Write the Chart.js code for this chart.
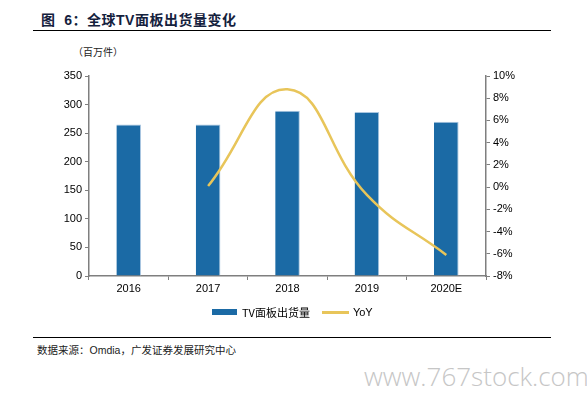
<!DOCTYPE html>
<html>
<head>
<meta charset="utf-8">
<script src="https://cdn.jsdelivr.net/npm/chart.js@4/dist/chart.umd.min.js"></script>
<style>
  body { margin: 0; width: 587px; height: 399px; background: #fff; position: relative; overflow: hidden;
         font-family: "Liberation Sans", Arial, "Noto Sans CJK SC", sans-serif; }
  #title { position: absolute; left: 41px; top: 9px; font-size: 14px; font-weight: bold; color: #14213d;
           font-family: "Liberation Sans", "Noto Sans CJK SC", sans-serif; letter-spacing: 0.5px; }
  .rule { position: absolute; left: 33px; width: 518px; height: 0; border-top: 1.5px solid #000; }
  #unit { position: absolute; left: 73px; top: 44px; font-size: 10px; color: #222; font-family: "Noto Sans CJK SC", sans-serif; }
  #box { position: absolute; left: 0; top: 0; width: 587px; height: 320px; }
  #legend { position: absolute; top: 304px; left: 212px; font-size: 11px; color: #000; display: flex; align-items: center; }
  #legend span.sw { display: inline-block; }
  #source { position: absolute; left: 37px; top: 342px; font-size: 10.5px; color: #222;
            font-family: "Liberation Sans", "Noto Sans CJK SC", sans-serif; }
  #wm { position: absolute; left: 364px; top: 358px; font-size: 26px; font-weight: 300; color: #c6c6c6; font-family: "Open Sans", sans-serif; }
</style>
</head>
<body>
<div id="title">图&nbsp; 6：全球TV面板出货量变化</div>
<div class="rule" style="top:30px"></div>
<div id="unit">（百万件）</div>
<div id="box"><canvas id="myChart"></canvas></div>
<div id="legend">
  <span class="sw" style="width:25px;height:6px;background:#1b6aa5;margin-right:5px"></span><span style="font-family:'Noto Sans CJK SC'">TV面板出货量</span>
  <span class="sw" style="width:27px;height:3px;background:#e8c55a;margin-left:12px;margin-right:4px"></span><span>YoY</span>
</div>
<div class="rule" style="top:337px"></div>
<div id="source">数据来源：Omdia，广发证券发展研究中心</div>
<div id="wm">www.767stock.com</div>
<script>
var years = ['2016', '2017', '2018', '2019', '2020E'];
var shipments = [265, 265, 289, 287, 270];
var yoy = [null, 0.1, 8.8, -0.7, -6.1];
var leftTicks = [0, 50, 100, 150, 200, 250, 300, 350];
var rightTicks = [-8, -6, -4, -2, 0, 2, 4, 6, 8, 10];

var axisColor = '#7f7f7f';
var tickFont = { family: 'Liberation Sans, Arial, sans-serif', size: 11 };

var ctx = document.getElementById('myChart');
var myChart = new Chart(ctx, {
    type: 'bar',
    data: {
        labels: years,
        datasets: [{
            label: 'TV面板出货量',
            data: shipments,
            backgroundColor: '#1b6aa5',
            borderColor: '#a9c6e0',
            borderWidth: { top: 1, left: 0, right: 1, bottom: 0 },
            yAxisID: 'y',
            barPercentage: 0.31,
            categoryPercentage: 1,
            order: 2
        }, {
            type: 'line',
            label: 'YoY',
            data: yoy,
            borderColor: '#e8c55a',
            borderWidth: 2.5,
            pointRadius: 0,
            tension: 0.45,
            yAxisID: 'y1',
            order: 1
        }]
    },
    options: {
        responsive: true,
        maintainAspectRatio: false,
        animation: false,
        layout: { padding: { top: 76, bottom: 14, left: 30, right: 40 } },
        plugins: { legend: { display: false }, tooltip: { enabled: false } },
        scales: {
            x: {
                grid: { display: true, drawOnChartArea: false, color: axisColor, tickLength: 4, offset: true },
                border: { color: axisColor, width: 1.5 },
                ticks: { color: '#000', font: tickFont, padding: 2 },
                afterFit: function(s) { s.height = 30; }
            },
            y: {
                position: 'left',
                min: 0, max: 350,
                afterBuildTicks: function(s) { s.ticks = leftTicks.map(function(v) { return { value: v }; }); },
                grid: { drawOnChartArea: false, color: axisColor, tickLength: 4 },
                border: { color: axisColor, width: 1.5 },
                ticks: { color: '#000', font: tickFont, padding: 3 },
                afterFit: function(s) { s.width = 59; }
            },
            y1: {
                position: 'right',
                min: -8, max: 10,
                afterBuildTicks: function(s) { s.ticks = rightTicks.map(function(v) { return { value: v }; }); },
                grid: { drawOnChartArea: false, color: axisColor, tickLength: 4 },
                border: { color: axisColor, width: 1.5 },
                ticks: { color: '#000', font: tickFont, padding: 3, callback: function(v) { return v + '%'; } },
                afterFit: function(s) { s.width = 61; }
            }
        }
    }
});
</script>
</body>
</html>
